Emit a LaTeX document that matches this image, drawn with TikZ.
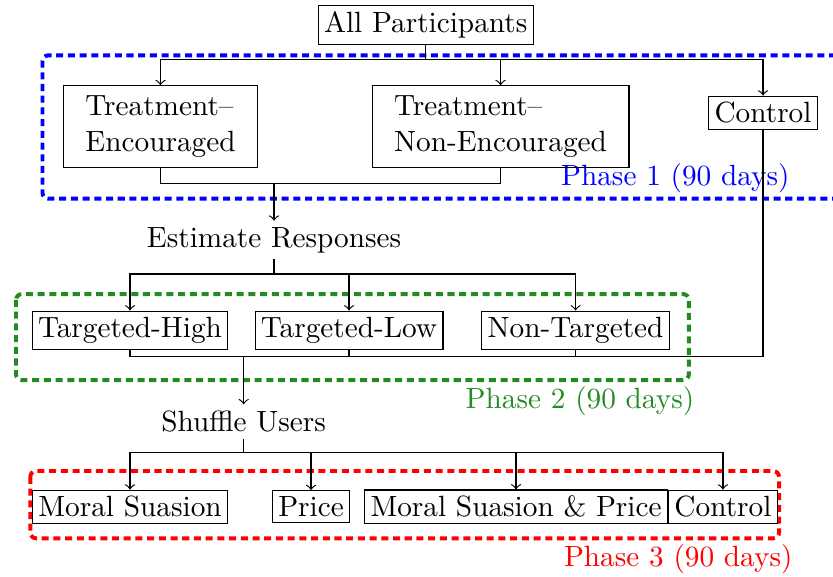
\documentclass[tikz,border=0pt]{standalone}
\usepackage{xcolor}
\usepackage{tikz}
\definecolor{phblue}{HTML}{0000FF}
\definecolor{phgreen}{HTML}{228B22}
\definecolor{phred}{HTML}{FF0000}
\begin{document}
\begin{tikzpicture}[x=1cm, y=1cm,
  box/.style={draw, line width=0.4pt, inner sep=2pt},
  twobox/.style={draw, line width=0.4pt, align=left, inner xsep=7.5pt, inner ysep=3.5pt},
  stage/.style={inner sep=2pt},
  phasebox/.style={line width=1.35pt, dash pattern=on 2.4pt off 1.6pt, rounded corners=2pt},
  phaselabel/.style={inner sep=0pt, anchor=base east}]
  \useasboundingbox (0,0) rectangle (10.0,-6.915);
  \draw[phasebox, draw=phblue] (10.6,-0.664) -- (0.51,-0.664) -- (0.51,-2.385) -- (10.6,-2.385);
  \draw[phasebox, draw=phgreen] (0.192,-3.53) rectangle (8.27,-4.562);
  \draw[phasebox, draw=phred] (0.364,-5.654) rectangle (9.352,-6.462);
  \node[phaselabel, text=phblue] (lab1) at (9.485,-2.221) {Phase 1 (90 days)};
  \node[phaselabel, text=phgreen] (lab2) at (8.34,-4.898) {Phase 2 (90 days)};
  \node[phaselabel, text=phred] (lab3) at (9.52,-6.803) {Phase 3 (90 days)};
  \node[box] (all) at (5.11,-0.30) {All Participants};
  \node[twobox] (te) at (1.927,-1.519) {Treatment--\\Encouraged};
  \node[twobox] (tn) at (6.009,-1.519) {Treatment--\\Non-Encouraged};
  \node[box] (ctl) at (9.16,-1.353) {Control};
  \node[stage] (est) at (3.29,-2.881) {Estimate Responses};
  \node[box] (th) at (1.561,-3.963) {Targeted-High};
  \node[box] (tl) at (4.19,-3.963) {Targeted-Low};
  \node[box] (nt) at (6.909,-3.963) {Non-Targeted};
  \node[stage] (shuf) at (2.925,-5.059) {Shuffle Users};
  \node[box] (ms) at (1.561,-6.083) {Moral Suasion};
  \node[box] (pr) at (3.734,-6.083) {Price};
  \node[box] (msp) at (6.195,-6.083) {Moral Suasion \& Price};
  \node[box, anchor=west] (ctl2) at (msp.east) {Control};
  \coordinate (s1) at (5.11,-0.712);
  \coordinate (m1) at (3.29,-2.20);
  \coordinate (s2) at (3.29,-3.29);
  \coordinate (m2) at (2.925,-4.282);
  \coordinate (s3) at (2.925,-5.43);
  \draw (all) -- (s1);
  \draw[->] (s1) -| (te);
  \draw[->] (s1) -| (tn);
  \draw[->] (s1) -| (ctl);
  \draw (te) |- (m1);
  \draw (tn) |- (m1);
  \draw[->] (m1) -- (est);
  \draw (est) -- (s2);
  \draw[->] (s2) -| (th);
  \draw[->] (s2) -| (tl);
  \draw[->] (s2) -| (nt);
  \draw (th) |- (m2);
  \draw (tl) |- (m2);
  \draw (nt) |- (m2);
  \draw (ctl) |- (m2);
  \draw[->] (m2) -- (shuf);
  \draw (shuf) -- (s3);
  \draw[->] (s3) -| (ms);
  \draw[->] (s3) -| (pr);
  \draw[->] (s3) -| (msp);
  \draw[->] (s3) -| (ctl2);
\end{tikzpicture}
\end{document}
